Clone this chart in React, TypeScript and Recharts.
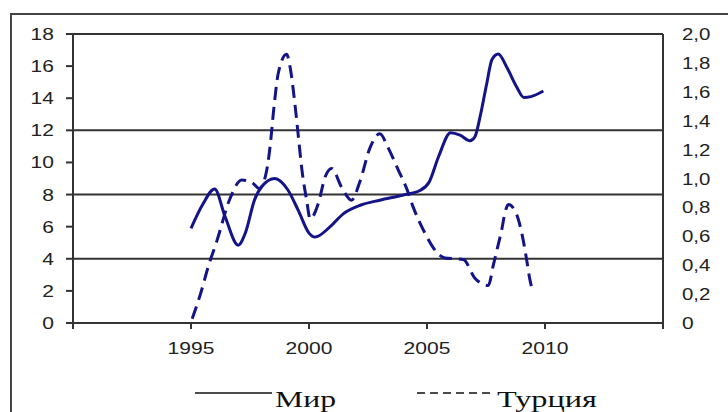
import React from 'react';
import { LineChart, Line, XAxis, YAxis, ReferenceLine, Legend } from 'recharts';

// Мир (left axis)
const mirYears = [1995.0, 1995.5, 1996.0, 1996.45, 1997.0, 1997.3, 1997.7, 1998.0, 1998.55, 1999.1, 1999.55, 2000.0, 2000.25, 2000.9, 2001.45, 2002.2, 2003.0, 2004.0, 2004.7, 2005.1, 2005.5, 2006.0, 2006.4, 2006.82, 2007.03, 2007.25, 2007.53, 2007.75, 2008.02, 2008.37, 2008.8, 2009.1, 2009.4, 2009.93];
const mirValues = [5.9, 7.4, 8.35, 6.6, 4.85, 5.6, 7.7, 8.5, 9.0, 8.3, 7.0, 5.6, 5.35, 6.0, 6.8, 7.35, 7.65, 7.97, 8.25, 8.8, 10.4, 11.85, 11.7, 11.35, 11.6, 12.85, 14.9, 16.4, 16.75, 15.96, 14.7, 14.05, 14.1, 14.45];

// Турция (right axis)
const turYears = [1995.05, 1995.4, 1995.73, 1996.1, 1996.65, 1997.15, 1997.6, 1997.9, 1998.2, 1998.35, 1998.5, 1998.7, 1999.05, 1999.2, 1999.4, 1999.55, 1999.7, 1999.9, 2000.05, 2000.4, 2000.68, 2000.96, 2001.38, 2001.8, 2002.16, 2002.58, 2003.0, 2003.36, 2003.78, 2004.14, 2004.42, 2004.92, 2005.27, 2005.76, 2006.54, 2007.03, 2007.6, 2007.81, 2008.0, 2008.16, 2008.3, 2008.45, 2008.8, 2009.08, 2009.22, 2009.36, 2009.5];
const turValues = [0.03, 0.2, 0.39, 0.57, 0.86, 0.99, 0.97, 0.93, 1.05, 1.22, 1.47, 1.73, 1.86, 1.77, 1.52, 1.29, 1.06, 0.85, 0.72, 0.83, 1.01, 1.07, 0.94, 0.85, 0.98, 1.21, 1.31, 1.21, 1.06, 0.93, 0.8, 0.62, 0.52, 0.45, 0.44, 0.31, 0.26, 0.4, 0.53, 0.64, 0.76, 0.82, 0.75, 0.57, 0.44, 0.3, 0.21];

const xTicks = [1990, 1995, 2000, 2005, 2010, 2015];
const xLabelled = [1995, 2000, 2005, 2010];
const leftTicks = [0, 2, 4, 6, 8, 10, 12, 14, 16, 18];
const rightTicks = [0, 0.2, 0.4, 0.6, 0.8, 1.0, 1.2, 1.4, 1.6, 1.8, 2.0];
const gridValues = [4, 8, 12, 18];
const seriesNames = ['Мир', 'Турция'];

const mirData = mirYears.map((x, i) => ({ x, mir: mirValues[i] }));
const turData = turYears.map((x, i) => ({ x, tur: turValues[i] }));

const LINE_COLOR = '#141489';
const AXIS_COLOR = '#333';

const fmtX = (v: number) => (xLabelled.includes(v) ? String(v) : '');
const fmtLeft = (v: number) => String(v);
const fmtRight = (v: number) => (v === 0 ? '0' : v.toFixed(1).replace('.', ','));

function StretchedTick(props: any) {
  const { x, y, payload, textAnchor, fmt, dy } = props;
  const label = fmt(payload.value);
  if (!label) return <g />;
  const len = Array.from(label).reduce((a: number, c: any) => a + (c === ',' ? 5 : 11.7), 0);
  return (
    <text
      x={x}
      y={y}
      dy={dy}
      textAnchor={textAnchor}
      fontSize={17}
      fontFamily="'Liberation Sans', Arial, sans-serif"
      fill="#222"
      textLength={len}
      lengthAdjust="spacingAndGlyphs"
    >
      {label}
    </text>
  );
}

const renderLegend = () => (
  <svg width={728} height={40} style={{ display: 'block' }}>
    <line x1={195} x2={272} y1={17} y2={17} stroke="#111" strokeWidth={1.5} />
    <text x={275} y={31} fontSize={24} fontFamily="'Liberation Serif', 'Times New Roman', serif" fill="#111" textLength={61} lengthAdjust="spacingAndGlyphs">
      {seriesNames[0]}
    </text>
    <line x1={417} x2={494} y1={17} y2={17} stroke="#111" strokeWidth={1.5} strokeDasharray="8 5" />
    <text x={497} y={31} fontSize={24} fontFamily="'Liberation Serif', 'Times New Roman', serif" fill="#111" textLength={100} lengthAdjust="spacingAndGlyphs">
      {seriesNames[1]}
    </text>
  </svg>
);

export default function App() {
  return (
    <div style={{ position: 'fixed', left: 0, top: 0, width: 728, height: 412, overflow: 'hidden', background: '#fff' }}>
      <div style={{ position: 'absolute', left: 10, top: 13, width: 740, height: 420, border: '2px solid #444', boxSizing: 'border-box' }} />
      <div style={{ position: 'absolute', left: 0, top: 0 }}>
        <LineChart width={728} height={412} margin={{ top: 34, right: 0, bottom: 0, left: 0 }}>
          <XAxis
            type="number"
            dataKey="x"
            domain={[1990, 2015]}
            ticks={xTicks}
            interval={0}
            allowDataOverflow
            stroke={AXIS_COLOR}
            strokeWidth={2}
            tickSize={6}
            tickMargin={13}
            height={49}
            tick={(p: any) => <StretchedTick {...p} fmt={fmtX} dy="0.71em" />}
          />
          <YAxis
            yAxisId="left"
            orientation="left"
            domain={[0, 18]}
            ticks={leftTicks}
            interval={0}
            width={73}
            stroke={AXIS_COLOR}
            strokeWidth={2}
            tickSize={7}
            tickMargin={12}
            tick={(p: any) => <StretchedTick {...p} fmt={fmtLeft} dy="0.355em" />}
          />
          <YAxis
            yAxisId="right"
            orientation="right"
            domain={[0, 2]}
            ticks={rightTicks}
            interval={0}
            width={65}
            stroke={AXIS_COLOR}
            strokeWidth={2}
            tickLine={false}
            tickSize={0}
            tickMargin={19}
            tick={(p: any) => <StretchedTick {...p} fmt={fmtRight} dy="0.355em" textAnchor="start" />}
          />
          {gridValues.map((v) => (
            <ReferenceLine key={v} yAxisId="left" y={v} stroke={AXIS_COLOR} strokeWidth={2} ifOverflow="extendDomain" />
          ))}
          <Line
            yAxisId="left"
            data={mirData}
            dataKey="mir"
            name={seriesNames[0]}
            type="monotone"
            stroke={LINE_COLOR}
            strokeWidth={3}
            dot={false}
            isAnimationActive={false}
          />
          <Line
            yAxisId="right"
            data={turData}
            dataKey="tur"
            name={seriesNames[1]}
            type="monotone"
            stroke={LINE_COLOR}
            strokeWidth={3}
            strokeDasharray="13 7"
            dot={false}
            isAnimationActive={false}
          />
          <Legend
            content={renderLegend}
            wrapperStyle={{ position: 'absolute', left: 0, top: 376, width: 728, height: 40 }}
          />
        </LineChart>
      </div>
    </div>
  );
}
